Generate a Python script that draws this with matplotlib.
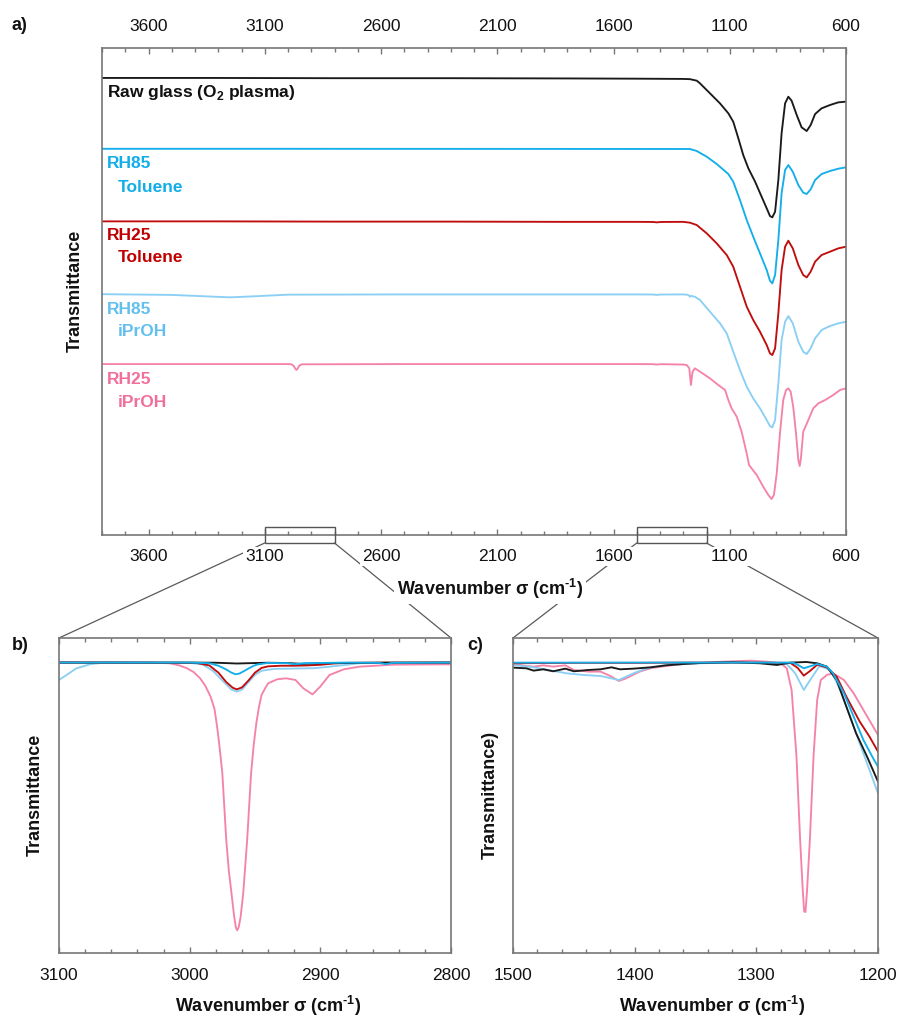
import matplotlib
matplotlib.use("Agg")
import matplotlib.pyplot as plt
from matplotlib.patches import Rectangle, ConnectionPatch
from matplotlib.ticker import FixedLocator, MultipleLocator

plt.rcParams['font.family'] = ['Liberation Sans', 'DejaVu Sans']
plt.rcParams['mathtext.fontset'] = 'custom'
plt.rcParams['mathtext.rm'] = 'Liberation Sans'
plt.rcParams['mathtext.bf'] = 'Liberation Sans:bold'

# ---------------- data: panel a (full spectra, stacked, a.u.) ----------------
a_raw_w = [3800, 3300, 2800, 2300, 1800, 1500, 1300, 1271, 1242, 1228, 1185, 1142, 1106, 1085, 1063, 1042,
           1020, 991, 963, 941, 927, 917, 905, 891, 877, 862, 848, 834, 812, 791, 769, 752, 733, 705, 669, 633, 600]
a_raw_t = [93.85, 93.85, 93.8, 93.8, 93.75, 93.7, 93.65, 93.6, 93.29, 92.74, 90.69, 88.63, 86.58, 84.87, 81.45, 78.02,
           75.29, 72.55, 69.47, 67.07, 65.50, 65.22, 66.39, 72.89, 82.47, 88.63, 90.00, 89.18, 86.24, 83.71, 82.95, 84.18,
           86.44, 87.61, 88.29, 88.84, 88.98]

a_rh85t_w = [3800, 3000, 2000, 1500, 1271, 1242, 1199, 1156, 1106, 1085, 1056, 1027, 999, 970, 941, 927, 917, 905,
             891, 877, 862, 848, 829, 805, 784, 769, 752, 733, 705, 669, 633, 600]
a_rh85t_t = [79.3, 79.3, 79.28, 79.27, 79.26, 78.85, 77.68, 76.18, 74.12, 72.55, 68.78, 64.68, 61.25, 57.83, 54.41,
             52.22, 51.67, 53.38, 60.57, 70.15, 74.94, 75.97, 74.60, 71.86, 70.29, 70.02, 70.97, 72.89, 74.12, 74.74,
             75.22, 75.49]

a_rh25t_w = [3800, 3300, 2800, 2300, 1800, 1500, 1430, 1414, 1395, 1300, 1271, 1242, 1199, 1156, 1113, 1085, 1056,
             1027, 999, 970, 941, 927, 917, 905, 891, 877, 862, 848, 829, 805, 784, 769, 752, 733, 705, 669, 633, 600]
a_rh25t_t = [64.4, 64.4, 64.35, 64.35, 64.3, 64.3, 64.28, 64.2, 64.28, 64.3, 64.13, 63.65, 61.94, 59.88, 57.49, 55.09,
             50.99, 46.88, 44.14, 41.75, 39.0, 37.29, 36.95, 38.32, 45.51, 54.41, 59.20, 60.43, 58.86, 55.44, 53.38,
             52.90, 54.07, 56.12, 57.49, 58.17, 58.86, 59.20]

a_rh85i_w = [3800, 3500, 3350, 3250, 3150, 3000, 2500, 2000, 1500, 1430, 1414, 1395, 1300, 1285, 1278, 1271, 1265,
             1260, 1250, 1228, 1185, 1142, 1113, 1085, 1056, 1027, 999, 970, 941, 927, 917, 905, 891, 877, 862, 848,
             829, 805, 784, 769, 752, 733, 705, 669, 633, 600]
a_rh85i_t = [49.45, 49.3, 49.0, 48.8, 49.0, 49.35, 49.4, 49.4, 49.4, 49.38, 49.3, 49.38, 49.4, 49.35, 49.28, 48.93,
             49.14, 49.0, 48.93, 48.25, 45.85, 43.46, 41.40, 37.64, 33.87, 30.45, 28.05, 26.00, 23.61, 22.37, 22.10,
             23.61, 31.14, 40.04, 43.80, 44.96, 43.46, 39.69, 37.64, 37.16, 38.32, 40.38, 42.09, 42.91, 43.46, 43.80]

a_rh25i_w = [3800, 3300, 3000, 2985, 2975, 2968, 2963, 2958, 2951, 2940, 2500, 2000, 1500, 1430, 1414, 1395, 1300,
             1285, 1274, 1267, 1260, 1250, 1228, 1185, 1149, 1120, 1106, 1092, 1070, 1049, 1027, 1017, 1006, 984,
             956, 934, 920, 910, 898, 884, 870, 858, 848, 838, 827, 815, 805, 799, 794, 784, 762, 741, 719, 690,
             655, 626, 600]
a_rh25i_t = [35.1, 35.1, 35.1, 35.05, 34.7, 34.1, 33.9, 34.2, 34.8, 35.05, 35.1, 35.1, 35.1, 35.08, 35.0, 35.08, 35.0,
             34.90, 34.22, 30.79, 33.53, 34.22, 33.53, 32.16, 30.79, 29.77, 27.71, 26.00, 24.29, 21.21, 16.76, 14.37,
             13.68, 12.31, 9.92, 8.21, 7.38, 8.21, 12.66, 20.87, 27.71, 29.77, 30.11, 29.43, 26.35, 20.87, 15.39,
             14.16, 15.73, 21.21, 23.61, 26.00, 27.03, 27.71, 28.74, 29.77, 30.11]

# ---------------- data: panel b (3100-2800 cm-1) ----------------
b_raw_w = [3100, 3050, 3000, 2980, 2970, 2964, 2955, 2940, 2925, 2915, 2900, 2850, 2800]
b_raw_t = [92.2, 92.2, 92.2, 92.15, 92.0, 91.9, 92.0, 92.15, 92.05, 91.8, 92.0, 92.2, 92.2]
b_rh85t_w = [3100, 3000, 2985, 2978, 2972, 2968, 2965, 2962, 2958, 2955, 2951, 2948, 2940, 2925, 2920, 2912, 2880,
             2855, 2850, 2845, 2800]
b_rh85t_t = [92.2, 92.2, 92.0, 91.2, 90.0, 89.0, 88.5, 88.7, 89.6, 90.3, 91.2, 91.6, 92.1, 92.0, 91.7, 92.0, 92.2,
             92.1, 91.7, 92.1, 92.2]
b_rh25t_w = [3100, 2995, 2985, 2978, 2972, 2967, 2964, 2960, 2955, 2950, 2945, 2940, 2930, 2920, 2910, 2900, 2890,
             2880, 2800]
b_rh25t_t = [92.2, 92.1, 91.3, 89.0, 86.0, 84.2, 83.7, 84.3, 86.5, 89.0, 90.5, 91.0, 91.2, 91.2, 91.3, 91.5, 91.9,
             92.1, 92.2]
b_rh85i_w = [3100, 3094, 3087, 3076, 3065, 3000, 2990, 2982, 2975, 2968, 2964, 2960, 2955, 2950, 2945, 2935, 2920,
             2905, 2895, 2880, 2870, 2800]
b_rh85i_t = [86.7, 88.3, 90.3, 91.7, 92.2, 92.1, 91.6, 89.5, 86.5, 83.6, 83.0, 83.6, 86.0, 88.3, 89.6, 90.2, 90.3,
             90.4, 90.8, 91.5, 92.0, 92.2]
b_rh25i_w = [3100, 3030, 3015, 3008, 3002, 2997, 2992, 2988, 2984, 2981, 2979, 2977, 2975, 2972, 2970, 2968, 2966,
             2964.6, 2963.6, 2962.4, 2961, 2959, 2956, 2953, 2951, 2949, 2947, 2945, 2942, 2940, 2933, 2926, 2919,
             2913, 2906, 2900, 2893, 2882, 2870, 2844, 2800]
b_rh25i_t = [92.2, 92.2, 91.96, 91.3, 90.38, 89.2, 87.2, 84.8, 81.4, 77.5, 71.86, 65.0, 57.05, 35.9, 26.0, 18.96,
             11.8, 8.0, 7.2, 8.3, 11.5, 18.96, 35.9, 57.05, 66.0, 72.9, 78.0, 81.9, 84.2, 85.6, 86.9, 87.2, 86.67,
             84.03, 82.1, 84.6, 88.26, 90.06, 90.9, 91.54, 91.65]

# ---------------- data: panel c (1500-1200 cm-1) ----------------
c_raw_w = [1500, 1489, 1483, 1475, 1467, 1457, 1450, 1438, 1428, 1419, 1412, 1401, 1387, 1374, 1360, 1346, 1319,
           1297, 1283, 1272, 1259, 1250, 1242, 1234, 1226, 1218, 1209, 1200]
c_raw_t = [90.59, 90.38, 89.64, 90.06, 89.43, 90.27, 89.43, 89.85, 90.06, 90.69, 90.06, 90.27, 90.69, 91.33, 91.75,
           92.07, 92.28, 91.97, 91.44, 92.18, 92.39, 91.97, 90.91, 86.67, 78.21, 69.75, 62.34, 54.41]
c_rh85t_w = [1500, 1450, 1400, 1350, 1300, 1270, 1266, 1261, 1256, 1250, 1242, 1237, 1228, 1220, 1212, 1204, 1200]
c_rh85t_t = [92.18, 92.18, 92.2, 92.2, 92.2, 92.18, 91.5, 90.38, 91.0, 91.75, 90.91, 88.79, 82.44, 75.04, 67.63,
             61.81, 59.17]
c_rh25t_w = [1500, 1450, 1400, 1350, 1300, 1272, 1266, 1261, 1256, 1250, 1242, 1234, 1226, 1215, 1207, 1200]
c_rh25t_t = [92.0, 92.1, 92.1, 92.2, 92.2, 92.1, 90.5, 88.05, 89.5, 91.5, 90.69, 87.73, 81.38, 73.45, 68.69, 63.93]
c_rh85i_w = [1500, 1483, 1456, 1442, 1428, 1413, 1401, 1390, 1374, 1346, 1319, 1292, 1275, 1268, 1261, 1254, 1248,
             1239, 1231, 1223, 1215, 1207, 1200]
c_rh85i_t = [91.44, 90.69, 88.79, 88.26, 87.94, 86.67, 88.79, 90.38, 91.44, 91.97, 92.28, 92.18, 91.75, 88.79, 83.5,
             87.73, 91.12, 89.85, 83.5, 75.04, 66.57, 58.11, 50.7]
c_rh25i_w = [1500, 1489, 1483, 1475, 1467, 1457, 1450, 1438, 1428, 1420, 1413, 1407, 1396, 1387, 1374, 1360, 1333,
             1305, 1292, 1280, 1275, 1271, 1267, 1264, 1262, 1260.7, 1259.6, 1258.3, 1256, 1253, 1250, 1247, 1242,
             1237, 1228, 1220, 1212, 1204, 1200]
c_rh25i_t = [91.75, 91.12, 90.91, 91.33, 90.91, 91.33, 89.85, 89.32, 89.32, 87.94, 86.36, 87.2, 89.32, 90.38, 91.12,
             91.75, 92.39, 92.81, 92.49, 91.97, 90.38, 83.5, 62.34, 35.89, 21.0, 13.2, 13.0, 20.0, 35.89, 62.34,
             80.33, 86.67, 88.26, 88.79, 86.67, 82.44, 77.15, 71.86, 69.22]

series_names = ["Raw glass", "RH85 Toluene", "RH25 Toluene", "RH85 iPrOH", "RH25 iPrOH"]
colors = ["#1a1a1a", "#14aeea", "#c00d0d", "#8ccff4", "#f583a8"]
label_colors = ["#111111", "#11aee8", "#c00000", "#63c0ee", "#f0709a"]

a_xmajor = [3600, 3100, 2600, 2100, 1600, 1100, 600]
b_xmajor = [3100, 3000, 2900, 2800]
c_xmajor = [1500, 1400, 1300, 1200]
zoom_ranges = [(3100, 2800), (1500, 1200)]

# ---------------- figure ----------------
W, H = 899, 1018
fig = plt.figure(figsize=(W / 100, H / 100), dpi=100)
fig.patch.set_facecolor("white")


def rect(l, t, r, b):
    return [l / W, 1 - b / H, (r - l) / W, (b - t) / H]


def fx(x):
    return x / W


def fy(y):
    return 1 - y / H


axA = fig.add_axes(rect(102, 48, 846, 535))
axB = fig.add_axes(rect(59, 638, 451, 953))
axC = fig.add_axes(rect(513, 638, 878, 953))

spine_col = "#777777"
tick_fs = 12.5
lw = 1.35

a_data = [(a_raw_w, a_raw_t), (a_rh85t_w, a_rh85t_t), (a_rh25t_w, a_rh25t_t), (a_rh85i_w, a_rh85i_t),
          (a_rh25i_w, a_rh25i_t)]
b_data = [(b_raw_w, b_raw_t), (b_rh85t_w, b_rh85t_t), (b_rh25t_w, b_rh25t_t), (b_rh85i_w, b_rh85i_t),
          (b_rh25i_w, b_rh25i_t)]
c_data = [(c_raw_w, c_raw_t), (c_rh85t_w, c_rh85t_t), (c_rh25t_w, c_rh25t_t), (c_rh85i_w, c_rh85i_t),
          (c_rh25i_w, c_rh25i_t)]

for (w, t), col in zip(a_data, colors):
    axA.plot(w, t, color=col, lw=lw, solid_joinstyle='round')

# draw order in zooms: pink, light blue, red, black, cyan on top
order = [4, 3, 2, 0, 1]
for i in order:
    axB.plot(*b_data[i], color=colors[i], lw=lw, solid_joinstyle='round')
    axC.plot(*c_data[i], color=colors[i], lw=lw, solid_joinstyle='round')

axA.set_xlim(3800, 600)
axA.set_ylim(0, 100)
axB.set_xlim(3100, 2800)
axB.set_ylim(0, 100)
axC.set_xlim(1500, 1200)
axC.set_ylim(0, 100)

for ax in (axA, axB, axC):
    for s in ax.spines.values():
        s.set_color(spine_col)
        s.set_linewidth(1.2)
    ax.set_yticks([])
    ax.tick_params(axis='x', which='both', direction='in', top=True, bottom=True, color=spine_col,
                   width=1.0, labelcolor="#111111")
    ax.tick_params(axis='x', which='major', length=4.0)
    ax.tick_params(axis='x', which='minor', length=2.6)

axA.xaxis.set_major_locator(FixedLocator(a_xmajor))
axA.xaxis.set_minor_locator(MultipleLocator(100))
axA.tick_params(axis='x', which='major', labeltop=True, labelbottom=True, pad=10)
axB.xaxis.set_major_locator(FixedLocator(b_xmajor))
axB.xaxis.set_minor_locator(MultipleLocator(20))
axB.tick_params(axis='x', which='major', pad=11)
axC.xaxis.set_major_locator(FixedLocator(c_xmajor))
axC.xaxis.set_minor_locator(MultipleLocator(20))
axC.tick_params(axis='x', which='major', pad=11)

for ax in (axA, axB, axC):
    ax.get_xticklabels()
    for tk in ax.xaxis.get_major_ticks():
        for lab in (tk.label1, tk.label2):
            lab.set_fontsize(tick_fs)
            lab.set_bbox(dict(facecolor='white', edgecolor='none', pad=1.5))

# zoom rectangles and connectors
hh = 1.64
for (x0, x1), axZ in zip(zoom_ranges, (axB, axC)):
    axA.add_patch(Rectangle((x1, -hh), x0 - x1, 2 * hh, fill=False, edgecolor="#555555", lw=1.0,
                            clip_on=False, zorder=5))
    for xa, xb in ((x0, 0), (x1, 1)):
        cp = ConnectionPatch(xyA=(xa, -hh), coordsA=axA.transData, xyB=(xb, 1), coordsB=axZ.transAxes,
                             color="#5a5a5a", lw=0.9)
        cp.set_zorder(-1)
        fig.add_artist(cp)

# text labels
bold = dict(fontweight='bold', family=['Liberation Sans', 'DejaVu Sans'])
lab_fs = 12.5
fig.text(fx(107), fy(92), r"Raw glass (O$_\mathbf{2}$ plasma)", color=label_colors[0], fontsize=lab_fs,
         ha='left', va='center', **bold)
lines_lab = [("RH85", "Toluene", 164, 187, 1), ("RH25", "Toluene", 236, 258, 2),
             ("RH85", "iPrOH", 310, 332, 3), ("RH25", "iPrOH", 380, 402, 4)]
for l1, l2, y1, y2, ci in lines_lab:
    fig.text(fx(107), fy(y1), l1, color=label_colors[ci], fontsize=lab_fs, ha='left', va='center', **bold)
    fig.text(fx(118), fy(y2), l2, color=label_colors[ci], fontsize=lab_fs, ha='left', va='center', **bold)

xl = "Wavenumber σ (cm$^{\\mathbf{\u2010}\\mathbf{1}}$)"
fig.text(fx(490), fy(589), xl, fontsize=13, ha='center', va='center', color="#111111",
         bbox=dict(facecolor='white', edgecolor='none', pad=2), **bold)
fig.text(fx(268), fy(1006), xl, fontsize=13, ha='center', va='center', color="#111111", **bold)
fig.text(fx(712), fy(1006), xl, fontsize=13, ha='center', va='center', color="#111111", **bold)

fig.text(fx(75), fy(291), "Transmittance", rotation=90, fontsize=13, ha='center', va='center',
         color="#111111", **bold)
fig.text(fx(35), fy(795), "Transmittance", rotation=90, fontsize=13, ha='center', va='center',
         color="#111111", **bold)
fig.text(fx(490), fy(795), "Transmittance)", rotation=90, fontsize=13, ha='center', va='center',
         color="#111111", **bold)

fig.text(fx(19), fy(25), "a)", fontsize=13, ha='center', va='center', color="#111111", **bold)
fig.text(fx(20), fy(646), "b)", fontsize=13, ha='center', va='center', color="#111111", **bold)
fig.text(fx(475), fy(646), "c)", fontsize=13, ha='center', va='center', color="#111111", **bold)

fig.savefig("out.png", dpi=100, facecolor="white")
